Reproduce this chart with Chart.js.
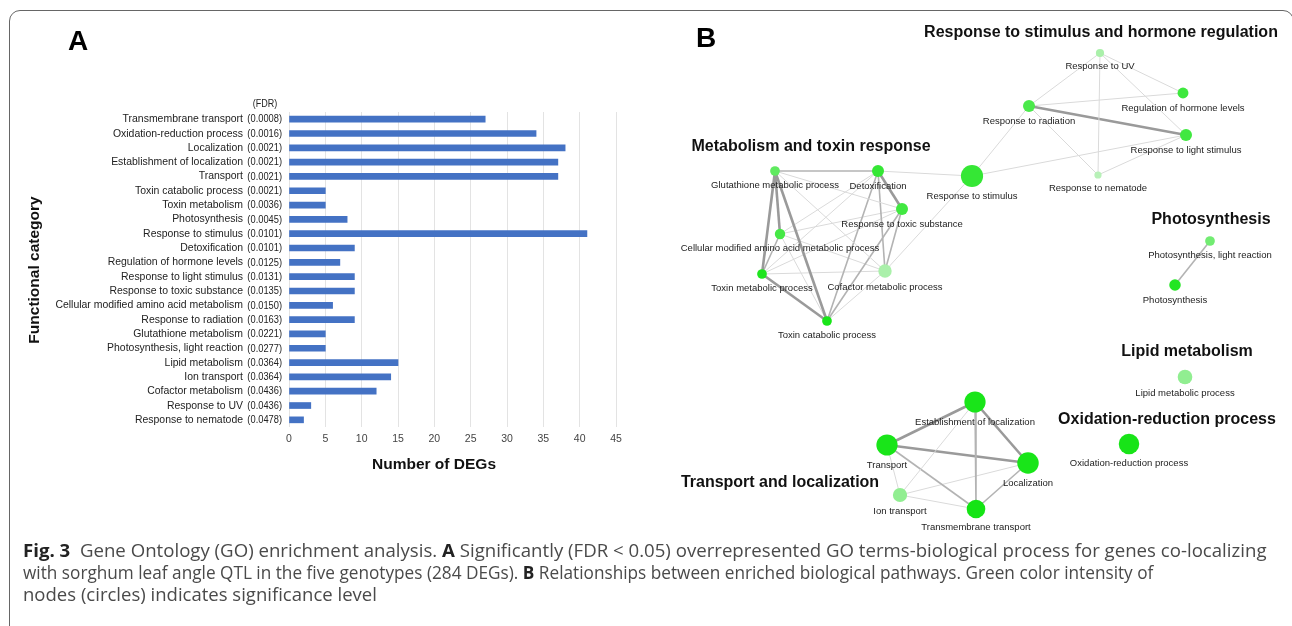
<!DOCTYPE html>
<html>
<head>
<meta charset="utf-8">
<script src="https://cdn.jsdelivr.net/npm/chart.js@4.4.1/dist/chart.umd.min.js"></script>
<style>
  html, body { margin: 0; padding: 0; background: #fff; }
  body { width: 1292px; height: 626px; position: relative; overflow: hidden; font-family: 'Liberation Sans', Arial, sans-serif; }
  #frame { position: absolute; left: 9px; top: 10px; width: 1285px; height: 700px; border: 1.5px solid #666; border-radius: 11px; box-sizing: border-box; }
  #chartA { position: absolute; left: 0; top: 0; }
  #chartB { position: absolute; left: 650px; top: 0; }
  .cap { position: absolute; left: 23px; white-space: nowrap; font-family: 'Open Sans', sans-serif; font-size: 18px; line-height: 22px; color: #4a4a4a; transform-origin: 0 50%; }
  .cap b { color: #222; font-weight: 700; }
</style>
</head>
<body>
<div id="frame"></div>
<canvas id="chartA" width="650" height="530"></canvas>
<canvas id="chartB" width="642" height="540"></canvas>
<div class="cap" data-w="1243" style="top:539px"><b>Fig. 3</b>&nbsp; Gene Ontology (GO) enrichment analysis. <b>A</b> Significantly (FDR &lt; 0.05) overrepresented GO terms-biological process for genes co-localizing</div>
<div class="cap" data-w="1130" style="top:561px">with sorghum leaf angle QTL in the five genotypes (284 DEGs). <b>B</b> Relationships between enriched biological pathways. Green color intensity of</div>
<div class="cap" data-w="354" style="top:583px">nodes (circles) indicates significance level</div>

<script>
// panel A: GO terms, FDR and number of DEGs
const categories = [
  'Transmembrane transport', 'Oxidation-reduction process', 'Localization', 'Establishment of localization',
  'Transport', 'Toxin catabolic process', 'Toxin metabolism', 'Photosynthesis', 'Response to stimulus',
  'Detoxification', 'Regulation of hormone levels', 'Response to light stimulus', 'Response to toxic substance',
  'Cellular modified amino acid metabolism', 'Response to radiation', 'Glutathione metabolism',
  'Photosynthesis, light reaction', 'Lipid metabolism', 'Ion transport', 'Cofactor metabolism',
  'Response to UV', 'Response to nematode'
];
const fdrValues = [0.0008, 0.0016, 0.0021, 0.0021, 0.0021, 0.0021, 0.0036, 0.0045, 0.0101, 0.0101, 0.0125,
  0.0131, 0.0135, 0.0150, 0.0163, 0.0221, 0.0277, 0.0364, 0.0364, 0.0436, 0.0436, 0.0478];
const degCounts = [27, 34, 38, 37, 37, 5, 5, 8, 41, 9, 7, 9, 9, 6, 9, 5, 5, 15, 14, 12, 3, 2];
const degTicks = [0, 5, 10, 15, 20, 25, 30, 35, 40, 45];

// panel B: network nodes (layout coords), term index into categories
const nodeLabels = [
  'Response to UV', 'Regulation of hormone levels', 'Response to radiation', 'Response to light stimulus',
  'Response to nematode', 'Response to stimulus', 'Glutathione metabolic process', 'Detoxification',
  'Response to toxic substance', 'Cellular modified amino acid metabolic process', 'Toxin metabolic process',
  'Cofactor metabolic process', 'Toxin catabolic process', 'Photosynthesis, light reaction', 'Photosynthesis',
  'Lipid metabolic process', 'Oxidation-reduction process', 'Establishment of localization', 'Transport',
  'Localization', 'Ion transport', 'Transmembrane transport'
];
const nodeTerm = [20, 10, 14, 11, 21, 8, 15, 9, 12, 13, 6, 19, 5, 16, 7, 17, 1, 3, 4, 2, 18, 0];
const nodeX = [1100, 1183, 1029, 1186, 1098, 972, 775, 878, 902, 780, 762, 885, 827, 1210, 1175, 1185, 1129, 975, 887, 1028, 900, 976];
const nodeY = [53, 93, 106, 135, 175, 176, 171, 171, 209, 234, 274, 271, 321, 241, 285, 377, 444, 402, 445, 463, 495, 509];
// edges: [from, to, strength 1..3]
const edges = [
  [0, 2, 1], [0, 1, 1], [0, 3, 1], [0, 4, 1], [2, 1, 1], [2, 3, 3], [2, 4, 1], [2, 5, 1], [3, 5, 1], [3, 4, 1],
  [5, 7, 1], [5, 11, 1],
  [6, 7, 2], [6, 8, 1], [6, 9, 3], [6, 10, 3], [6, 12, 3], [6, 11, 1],
  [7, 8, 3], [7, 9, 1], [7, 10, 1], [7, 12, 2], [7, 11, 2],
  [8, 9, 1], [8, 10, 1], [8, 12, 2], [8, 11, 2],
  [9, 10, 2], [9, 12, 1], [9, 11, 1],
  [10, 11, 1], [10, 12, 3], [11, 12, 1],
  [13, 14, 2],
  [17, 18, 3], [17, 19, 3], [17, 21, 2], [17, 20, 1], [18, 19, 3], [18, 21, 2], [18, 20, 1],
  [19, 21, 2], [19, 20, 1], [20, 21, 1]
];
const groupTitles = ['Response to stimulus and hormone regulation', 'Metabolism and toxin response', 'Photosynthesis',
  'Lipid metabolism', 'Oxidation-reduction process', 'Transport and localization'];
const groupX = [1101, 811, 1211, 1187, 1167, 780];
const groupY = [33, 147, 220, 352, 420, 483];

const FONT = '"Liberation Sans", Arial, sans-serif';

function putText(ctx, text, x, y, font, align, color, sx) {
  ctx.save();
  ctx.font = font;
  ctx.fillStyle = color;
  ctx.textAlign = align;
  ctx.textBaseline = 'middle';
  ctx.translate(x, y);
  ctx.scale(sx || 1, 1);
  ctx.fillText(text, 0, 0);
  ctx.restore();
}

const labelsA = {
  id: 'labelsA',
  afterDraw(chart) {
    const ctx = chart.ctx;
    const y = chart.scales.y;
    categories.forEach((c, i) => {
      const py = y.getPixelForValue(i);
      putText(ctx, c, 243, py, '11px ' + FONT, 'right', '#222', 0.95);
      putText(ctx, '(' + fdrValues[i].toFixed(4) + ')', 282, py + 0.5, '10px ' + FONT, 'right', '#222', 0.93);
    });
    putText(ctx, '(FDR)', 265, 104, '10px ' + FONT, 'center', '#222', 0.9);
    putText(ctx, 'A', 78, 42, 'bold 28px ' + FONT, 'center', '#000');
    putText(ctx, 'Number of DEGs', 434, 465, 'bold 15.5px ' + FONT, 'center', '#111');
    ctx.save();
    ctx.translate(35, 270);
    ctx.rotate(-Math.PI / 2);
    putText(ctx, 'Functional category', 0, 0, 'bold 15.5px ' + FONT, 'center', '#111');
    ctx.restore();
  }
};

new Chart(document.getElementById('chartA'), {
  type: 'bar',
  data: {
    labels: categories,
    datasets: [{ data: degCounts, backgroundColor: '#4472c4', barThickness: 6, borderWidth: 0 }]
  },
  options: {
    indexAxis: 'y',
    responsive: false,
    animation: false,
    layout: { padding: { top: 112, right: 34, bottom: 0, left: 0 } },
    plugins: { legend: { display: false }, tooltip: { enabled: false } },
    scales: {
      y: {
        ticks: { display: false },
        grid: { display: false },
        border: { display: false },
        afterFit: s => { s.width = 289; }
      },
      x: {
        min: 0,
        max: 45,
        afterBuildTicks: s => { s.ticks = degTicks.map(v => ({ value: v })); },
        ticks: { font: { family: FONT, size: 10.5 }, color: '#444', padding: 6 },
        grid: { color: '#e3e3e3', drawTicks: false },
        border: { display: false },
        afterFit: s => { s.height = 103; }
      }
    }
  },
  plugins: [labelsA]
});

// node size from number of DEGs, colour from FDR
const nodeRadius = nodeTerm.map(t => 1.5 + 1.5 * Math.sqrt(degCounts[t]));
function nodeColor(fdr) {
  const t = Math.min(1, fdr / 0.05);
  const a = [18, 228, 18], b = [192, 242, 192];
  return 'rgb(' + a.map((v, i) => Math.round(v + (b[i] - v) * t)).join(',') + ')';
}
const edgeStyle = { 1: ['#dadada', 1], 2: ['#b3b3b3', 1.6], 3: ['#9a9a9a', 2.6] };

const edgeSets = edges.map(([a, b, w]) => ({
  type: 'line',
  data: [{ x: nodeX[a], y: nodeY[a] }, { x: nodeX[b], y: nodeY[b] }],
  borderColor: edgeStyle[w][0],
  borderWidth: edgeStyle[w][1],
  pointRadius: 0,
  showLine: true,
  fill: false,
  clip: false,
  order: 1
}));

const labelsB = {
  id: 'labelsB',
  afterDraw(chart) {
    const ctx = chart.ctx;
    const sx = chart.scales.x, sy = chart.scales.y;
    nodeLabels.forEach((l, i) => {
      putText(ctx, l, sx.getPixelForValue(nodeX[i]), sy.getPixelForValue(nodeY[i]) + nodeRadius[i] + 9.5,
        '9.5px ' + FONT, 'center', '#222', 1);
    });
    groupTitles.forEach((g, i) => {
      putText(ctx, g, sx.getPixelForValue(groupX[i]), sy.getPixelForValue(groupY[i]), 'bold 16px ' + FONT, 'center', '#111');
    });
    putText(ctx, 'B', sx.getPixelForValue(706), sy.getPixelForValue(39), 'bold 28px ' + FONT, 'center', '#000');
  }
};

new Chart(document.getElementById('chartB'), {
  type: 'scatter',
  data: {
    datasets: [{
      data: nodeX.map((x, i) => ({ x, y: nodeY[i] })),
      pointRadius: nodeRadius,
      pointBackgroundColor: nodeTerm.map(t => nodeColor(fdrValues[t])),
      pointBorderWidth: 0,
      pointBorderColor: 'rgba(0,0,0,0)',
      clip: false,
      order: 0
    }, ...edgeSets]
  },
  options: {
    responsive: false,
    animation: false,
    layout: { padding: 0, autoPadding: false },
    plugins: { legend: { display: false }, tooltip: { enabled: false } },
    scales: {
      x: { type: 'linear', min: 650, max: 1292, display: false },
      y: { type: 'linear', min: 0, max: 540, reverse: true, display: false }
    }
  },
  plugins: [labelsB]
});

// squeeze each caption line to the width of the printed caption
document.querySelectorAll('.cap').forEach(el => {
  el.style.transform = 'scaleX(' + (Number(el.dataset.w) / el.offsetWidth) + ')';
});
</script>
</body>
</html>
